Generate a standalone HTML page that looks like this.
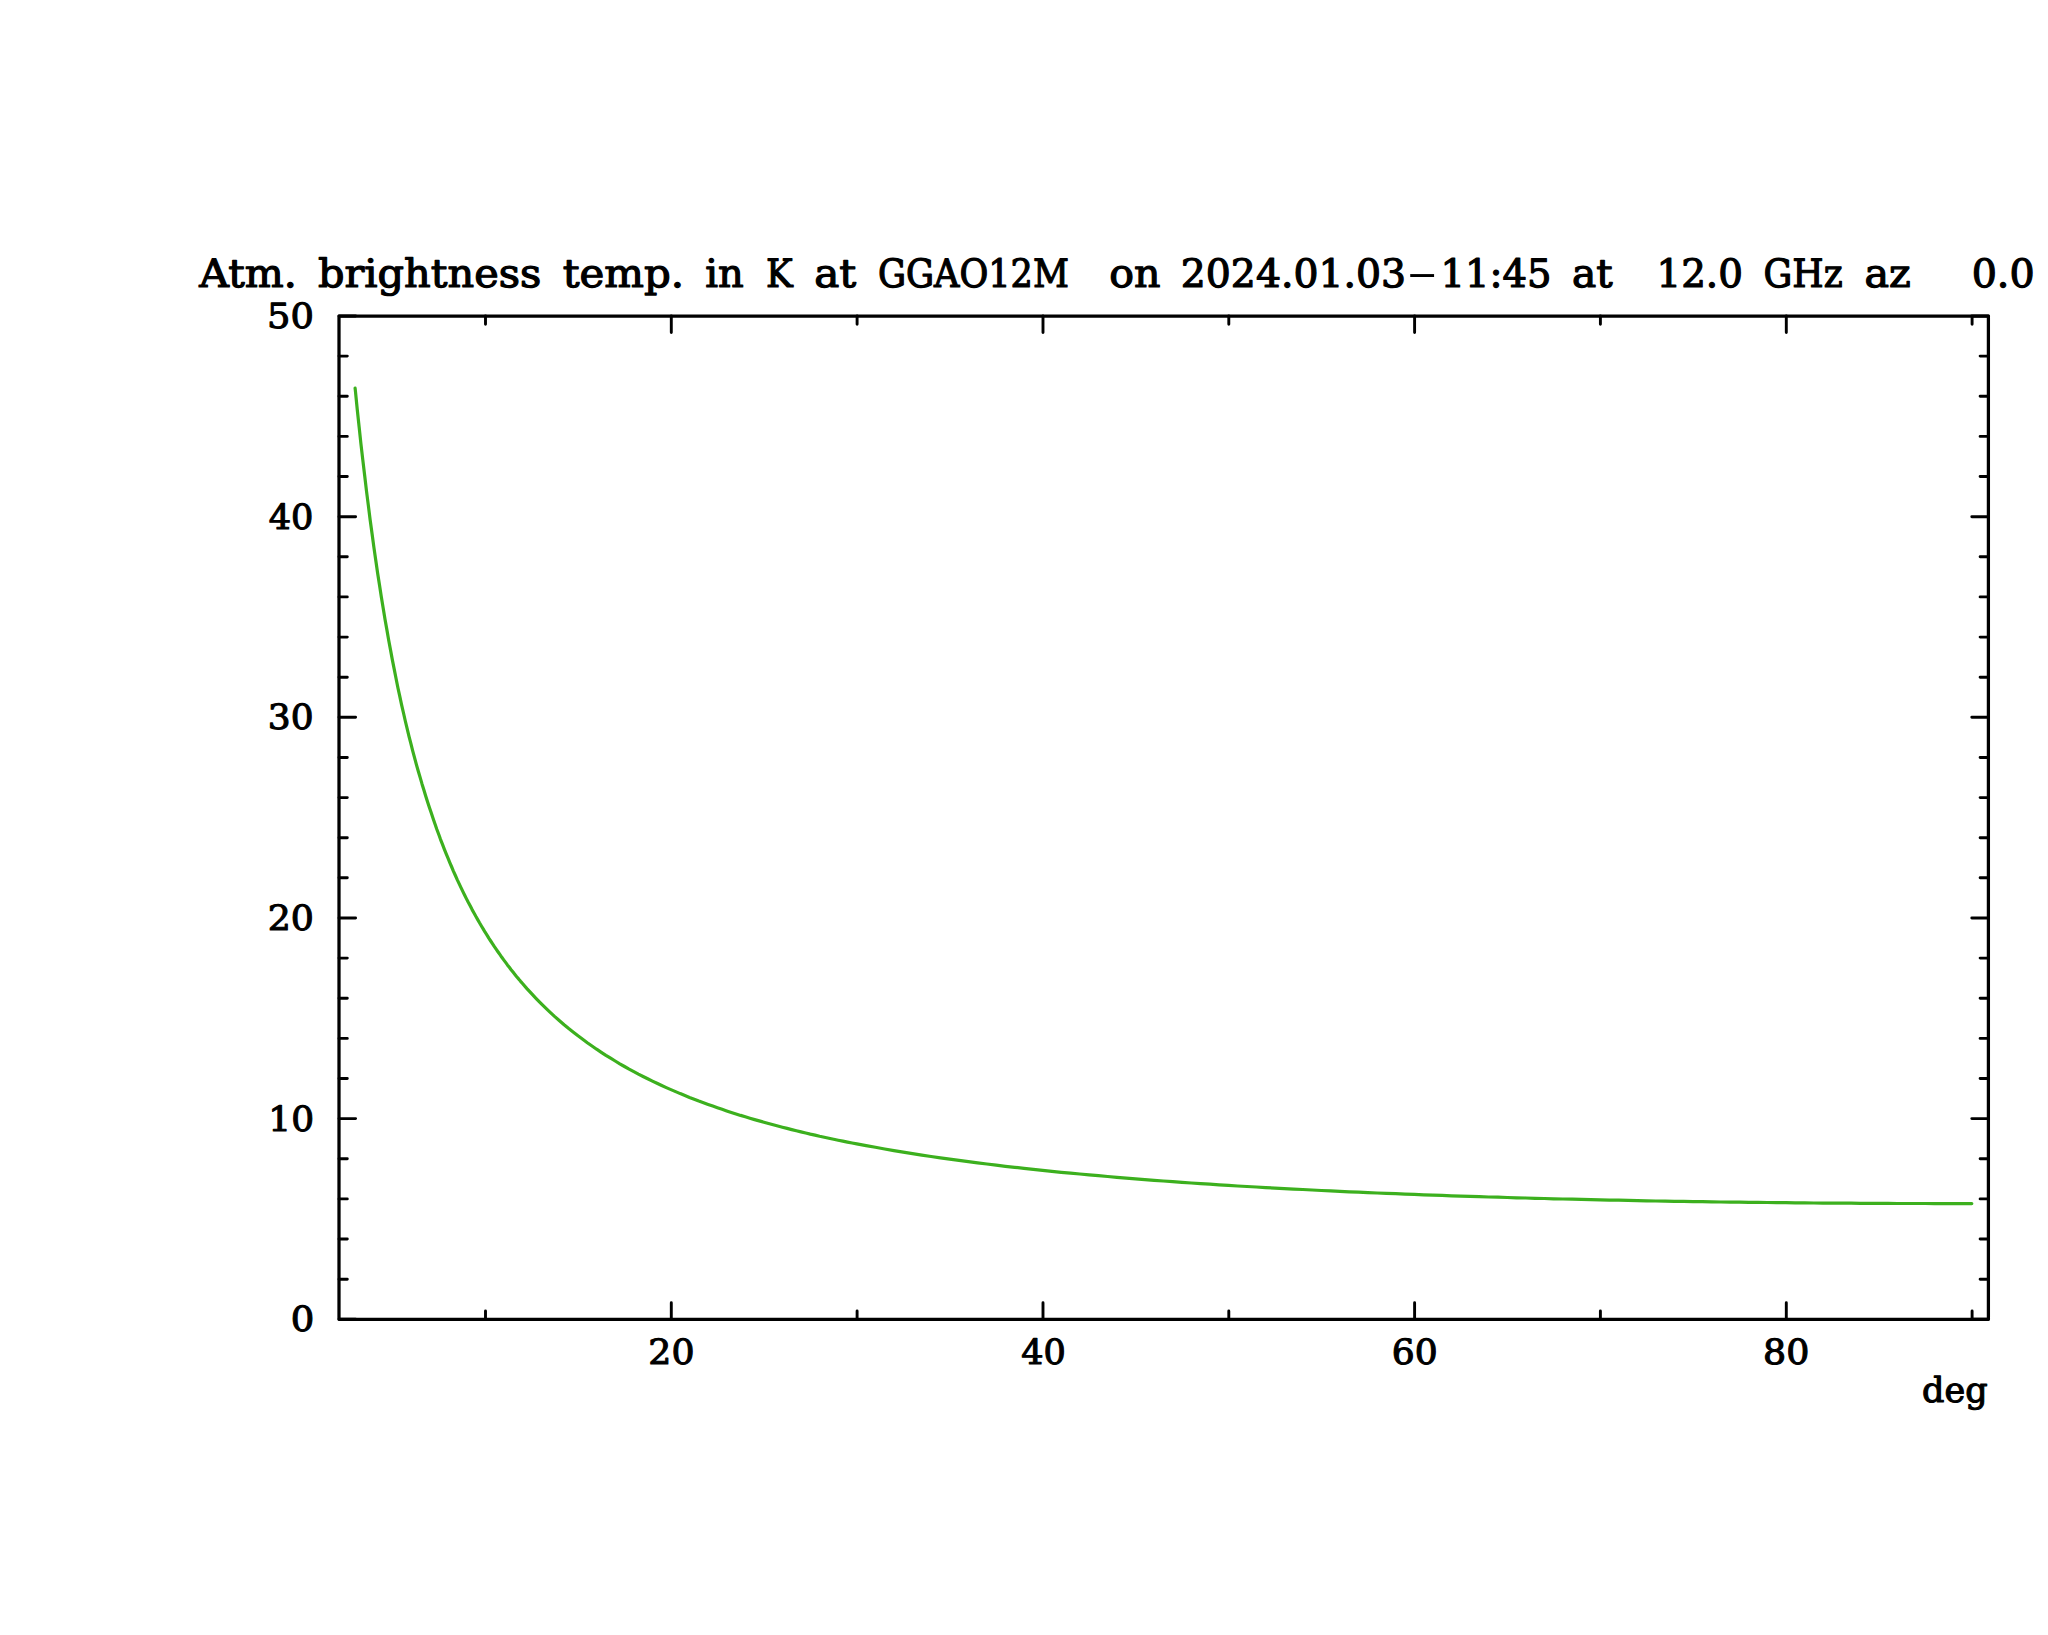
<!DOCTYPE html>
<html lang="en">
<head>
<meta charset="utf-8">
<title>Atm. brightness temp. in K at GGAO12M</title>
<style>
html,body{margin:0;padding:0;background:#fff;width:2048px;height:1635px;overflow:hidden}
svg{display:block}
text{font-family:"DejaVu Serif", "Liberation Serif", serif;fill:#000;stroke:#000;stroke-linejoin:round;white-space:pre;text-rendering:geometricPrecision}
.t{font-size:39.0px;stroke-width:1.2px}
.l{font-size:34.6px;stroke-width:1.1px}
</style>
</head>
<body>
<svg width="2048" height="1635" viewBox="0 0 2048 1635" role="img">
<rect x="0" y="0" width="2048" height="1635" fill="#ffffff"/>
<g fill="none" stroke="#000000" stroke-width="3.25" stroke-linecap="round" stroke-linejoin="round">
<rect x="339.0" y="316.0" width="1649.4" height="1003.3"/>
<path stroke-width="2.9" d="M671.3,1319.3V1302.7M671.3,316.0V332.6M1043.0,1319.3V1302.7M1043.0,316.0V332.6M1414.6,1319.3V1302.7M1414.6,316.0V332.6M1786.3,1319.3V1302.7M1786.3,316.0V332.6M485.5,1319.3V1311.0M485.5,316.0V324.3M857.1,1319.3V1311.0M857.1,316.0V324.3M1228.8,1319.3V1311.0M1228.8,316.0V324.3M1600.4,1319.3V1311.0M1600.4,316.0V324.3M1972.1,1319.3V1311.0M1972.1,316.0V324.3M339.0,1319.3H355.6M1988.4,1319.3H1971.8M339.0,1279.2H347.3M1988.4,1279.2H1980.1M339.0,1239.0H347.3M1988.4,1239.0H1980.1M339.0,1198.9H347.3M1988.4,1198.9H1980.1M339.0,1158.8H347.3M1988.4,1158.8H1980.1M339.0,1118.6H355.6M1988.4,1118.6H1971.8M339.0,1078.5H347.3M1988.4,1078.5H1980.1M339.0,1038.4H347.3M1988.4,1038.4H1980.1M339.0,998.2H347.3M1988.4,998.2H1980.1M339.0,958.1H347.3M1988.4,958.1H1980.1M339.0,918.0H355.6M1988.4,918.0H1971.8M339.0,877.8H347.3M1988.4,877.8H1980.1M339.0,837.7H347.3M1988.4,837.7H1980.1M339.0,797.6H347.3M1988.4,797.6H1980.1M339.0,757.5H347.3M1988.4,757.5H1980.1M339.0,717.3H355.6M1988.4,717.3H1971.8M339.0,677.2H347.3M1988.4,677.2H1980.1M339.0,637.1H347.3M1988.4,637.1H1980.1M339.0,596.9H347.3M1988.4,596.9H1980.1M339.0,556.8H347.3M1988.4,556.8H1980.1M339.0,516.7H355.6M1988.4,516.7H1971.8M339.0,476.5H347.3M1988.4,476.5H1980.1M339.0,436.4H347.3M1988.4,436.4H1980.1M339.0,396.3H347.3M1988.4,396.3H1980.1M339.0,356.1H347.3M1988.4,356.1H1980.1M339.0,316.0H355.6M1988.4,316.0H1971.8"/>
</g>
<polyline fill="none" stroke="#3cb01e" stroke-width="3.2" stroke-linecap="round" stroke-linejoin="round" points="355.1,388.1 355.4,390.9 357.2,409.0 359.1,426.6 360.9,443.6 362.8,459.9 364.7,475.8 366.5,491.1 368.4,505.9 370.2,520.2 372.1,534.0 373.9,547.4 375.8,560.4 377.6,572.9 379.5,585.1 381.3,596.8 383.2,608.2 385.0,619.2 386.9,629.9 388.7,640.3 390.6,650.4 392.4,660.1 394.3,669.6 396.1,678.8 397.9,687.7 399.8,696.4 401.6,704.8 403.5,713.0 405.3,721.0 407.2,728.8 409.0,736.3 410.9,743.7 412.7,750.8 414.6,757.8 416.4,764.6 418.3,771.2 420.2,777.6 422.0,783.9 423.9,790.0 425.7,796.0 427.6,801.9 429.4,807.5 431.3,813.1 433.1,818.6 435.0,824.0 436.8,829.2 438.7,834.3 440.5,839.3 442.4,844.2 444.2,848.9 446.1,853.6 448.0,858.2 449.8,862.6 451.7,867.0 453.5,871.3 455.4,875.5 457.2,879.6 459.1,883.6 461.0,887.6 462.8,891.4 464.7,895.2 466.5,898.9 468.4,902.6 470.3,906.1 472.1,909.6 474.0,913.0 475.8,916.3 477.7,919.6 479.5,922.8 481.4,926.0 483.3,929.1 485.1,932.2 487.0,935.1 488.8,938.1 490.7,941.0 492.6,943.8 494.4,946.6 496.3,949.4 498.1,952.0 500.0,954.7 501.8,957.3 503.7,959.9 505.6,962.4 507.4,964.9 509.3,967.3 511.1,969.7 513.0,972.1 514.9,974.4 516.7,976.7 518.6,978.9 520.4,981.1 522.3,983.3 526.9,988.6 531.6,993.7 536.2,998.6 540.9,1003.4 545.5,1007.9 550.2,1012.3 554.8,1016.6 559.5,1020.7 564.1,1024.7 568.7,1028.5 573.4,1032.2 578.0,1035.8 582.7,1039.3 587.3,1042.7 592.0,1046.0 596.6,1049.2 601.3,1052.3 605.9,1055.3 610.6,1058.2 615.2,1061.0 619.8,1063.8 624.5,1066.5 629.1,1069.1 633.8,1071.6 638.4,1074.1 643.1,1076.5 647.7,1078.8 652.4,1081.1 657.0,1083.3 661.7,1085.5 666.3,1087.6 670.9,1089.6 675.6,1091.6 680.2,1093.6 684.9,1095.5 689.5,1097.4 694.2,1099.2 698.8,1101.0 703.5,1102.7 708.1,1104.4 712.8,1106.1 717.4,1107.7 722.1,1109.3 726.7,1110.9 731.3,1112.4 736.0,1113.9 740.6,1115.4 745.3,1116.8 749.9,1118.2 754.6,1119.6 759.2,1120.9 763.9,1122.2 768.5,1123.5 773.2,1124.8 777.8,1126.0 782.4,1127.2 787.1,1128.4 791.7,1129.6 796.4,1130.8 801.0,1131.9 805.7,1133.0 810.3,1134.1 815.0,1135.1 819.6,1136.2 824.3,1137.2 828.9,1138.2 833.6,1139.2 838.2,1140.2 842.8,1141.1 847.5,1142.1 852.1,1143.0 856.8,1143.9 866.1,1145.6 875.4,1147.3 884.7,1149.0 893.9,1150.6 903.2,1152.1 912.5,1153.6 921.8,1155.1 931.1,1156.5 940.4,1157.8 949.7,1159.1 959.0,1160.4 968.3,1161.7 977.6,1162.9 986.9,1164.0 996.2,1165.2 1005.4,1166.3 1014.7,1167.3 1024.0,1168.4 1033.3,1169.4 1042.6,1170.4 1051.9,1171.3 1061.2,1172.3 1070.5,1173.2 1079.8,1174.0 1089.1,1174.9 1098.4,1175.7 1107.7,1176.5 1116.9,1177.3 1126.2,1178.1 1135.5,1178.9 1144.8,1179.6 1154.1,1180.3 1163.4,1181.0 1172.7,1181.7 1182.0,1182.3 1191.3,1183.0 1200.6,1183.6 1209.9,1184.2 1219.1,1184.8 1228.4,1185.4 1237.7,1186.0 1247.0,1186.5 1256.3,1187.0 1265.6,1187.6 1274.9,1188.1 1284.2,1188.6 1293.5,1189.1 1302.8,1189.5 1312.1,1190.0 1321.4,1190.5 1330.6,1190.9 1339.9,1191.3 1349.2,1191.8 1358.5,1192.2 1367.8,1192.6 1377.1,1193.0 1386.4,1193.3 1395.7,1193.7 1405.0,1194.1 1414.3,1194.4 1423.6,1194.8 1432.9,1195.1 1442.1,1195.4 1451.4,1195.8 1460.7,1196.1 1470.0,1196.4 1479.3,1196.7 1488.6,1197.0 1497.9,1197.2 1507.2,1197.5 1516.5,1197.8 1525.8,1198.0 1535.1,1198.3 1544.4,1198.5 1553.6,1198.8 1562.9,1199.0 1572.2,1199.2 1581.5,1199.4 1590.8,1199.6 1600.1,1199.9 1609.4,1200.1 1618.7,1200.2 1628.0,1200.4 1637.3,1200.6 1646.6,1200.8 1655.8,1201.0 1665.1,1201.1 1674.4,1201.3 1683.7,1201.4 1693.0,1201.6 1702.3,1201.7 1711.6,1201.8 1720.9,1202.0 1730.2,1202.1 1739.5,1202.2 1748.8,1202.3 1758.1,1202.4 1767.3,1202.5 1776.6,1202.6 1785.9,1202.7 1795.2,1202.8 1804.5,1202.9 1813.8,1203.0 1823.1,1203.1 1832.4,1203.1 1841.7,1203.2 1851.0,1203.2 1860.3,1203.3 1869.6,1203.3 1878.8,1203.4 1888.1,1203.4 1897.4,1203.5 1906.7,1203.5 1916.0,1203.5 1925.3,1203.5 1934.6,1203.6 1943.9,1203.6 1953.2,1203.6 1962.5,1203.6 1971.8,1203.6"/>
<text class="t" y="286.9"><tspan x="199.22" textLength="97.52" lengthAdjust="spacingAndGlyphs">Atm.</tspan> <tspan x="318.00" textLength="223.24" lengthAdjust="spacingAndGlyphs">brightness</tspan> <tspan x="562.76" textLength="121.37" lengthAdjust="spacingAndGlyphs">temp.</tspan> <tspan x="705.17" textLength="38.55" lengthAdjust="spacingAndGlyphs">in</tspan> <tspan x="766.05" textLength="26.73" lengthAdjust="spacingAndGlyphs">K</tspan> <tspan x="814.19" textLength="42.05" lengthAdjust="spacingAndGlyphs">at</tspan> <tspan x="877.91" textLength="191.01" lengthAdjust="spacingAndGlyphs">GGAO12M</tspan>  <tspan x="1109.16" textLength="51.27" lengthAdjust="spacingAndGlyphs">on</tspan> <tspan x="1180.79" textLength="225.31" lengthAdjust="spacingAndGlyphs">2024.01.03</tspan><tspan x="1406.03" dy="-1.0" stroke-width="0" textLength="32.28" lengthAdjust="spacingAndGlyphs">-</tspan><tspan x="1440.54" dy="1.0" textLength="110.98" lengthAdjust="spacingAndGlyphs">11:45</tspan> <tspan x="1572.03" textLength="40.67" lengthAdjust="spacingAndGlyphs">at</tspan>  <tspan x="1656.44" textLength="86.48" lengthAdjust="spacingAndGlyphs">12.0</tspan> <tspan x="1763.52" textLength="79.17" lengthAdjust="spacingAndGlyphs">GHz</tspan> <tspan x="1864.47" textLength="46.33" lengthAdjust="spacingAndGlyphs">az</tspan>   <tspan x="1971.65" textLength="63.00" lengthAdjust="spacingAndGlyphs">0.0</tspan></text>
<g class="l">
<text x="290.81" y="1331.24" textLength="23.57" lengthAdjust="spacingAndGlyphs">0</text>
<text x="268.39" y="1130.58" textLength="45.77" lengthAdjust="spacingAndGlyphs">10</text>
<text x="267.76" y="929.92" textLength="46.18" lengthAdjust="spacingAndGlyphs">20</text>
<text x="267.81" y="729.26" textLength="45.73" lengthAdjust="spacingAndGlyphs">30</text>
<text x="268.69" y="528.60" textLength="44.71" lengthAdjust="spacingAndGlyphs">40</text>
<text x="267.06" y="327.94" textLength="46.82" lengthAdjust="spacingAndGlyphs">50</text>
<text x="648.32" y="1363.62" textLength="46.14" lengthAdjust="spacingAndGlyphs">20</text>
<text x="1021.25" y="1363.62" textLength="44.60" lengthAdjust="spacingAndGlyphs">40</text>
<text x="1391.69" y="1363.62" textLength="45.90" lengthAdjust="spacingAndGlyphs">60</text>
<text x="1763.13" y="1363.62" textLength="46.26" lengthAdjust="spacingAndGlyphs">80</text>
<text x="1922.06" y="1401.90" textLength="65.60" lengthAdjust="spacingAndGlyphs">deg</text>
</g>
</svg>
</body>
</html>
